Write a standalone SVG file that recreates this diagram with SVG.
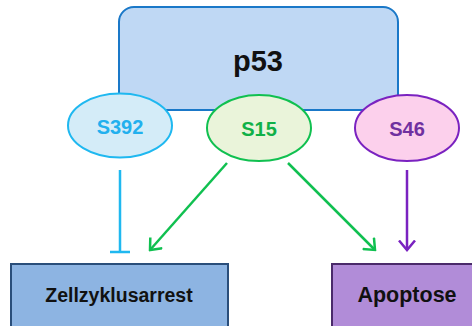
<svg xmlns="http://www.w3.org/2000/svg" width="472" height="326" viewBox="0 0 472 326">
<defs>
<style>
text{font-family:"Liberation Sans",Arial,sans-serif;font-weight:bold;text-anchor:middle;dominant-baseline:central}
.c{fill:none;stroke-width:2.5}
</style>
<marker id="ag" viewBox="0 0 12 18" refX="10.5" refY="9" markerWidth="12" markerHeight="18" markerUnits="userSpaceOnUse" orient="auto"><path d="M1,1 L10.5,9 L1,17" fill="none" stroke="#10c050" stroke-width="2.5"/></marker>
<marker id="ap" viewBox="0 0 12 18" refX="10.5" refY="9" markerWidth="12" markerHeight="18" markerUnits="userSpaceOnUse" orient="auto"><path d="M1,1 L10.5,9 L1,17" fill="none" stroke="#7a22c0" stroke-width="2.5"/></marker>
</defs>
<rect width="472" height="326" fill="#fff"/>
<g id="p53">
<rect x="119" y="7" width="279" height="103" rx="15" fill="#bfd8f4" stroke="#1a78c8" stroke-width="2"/>
<text x="258" y="61" font-size="29" fill="#111">p53</text>
</g>
<g id="S392">
<ellipse cx="120" cy="125.5" rx="52" ry="32" fill="#d4ecf8" stroke="#1fb8f0" stroke-width="2"/>
<text x="120" y="127" font-size="20" fill="#22b0ee">S392</text>
</g>
<g id="S15">
<ellipse cx="259" cy="128" rx="52" ry="33" fill="#eaf4da" stroke="#10c050" stroke-width="2"/>
<text x="259" y="129" font-size="20" fill="#10b048">S15</text>
</g>
<g id="S46">
<ellipse cx="407" cy="128" rx="52" ry="33" fill="#fcd0ec" stroke="#7a22c0" stroke-width="2"/>
<text x="407" y="129" font-size="20" fill="#7030a0">S46</text>
</g>
<g id="Zellzyklusarrest">
<rect x="11" y="264" width="217" height="70" fill="#8db4e2" stroke="#2a4e7a" stroke-width="2"/>
<text x="119" y="295" font-size="19.5" fill="#111">Zellzyklusarrest</text>
</g>
<g id="Apoptose">
<rect x="332" y="264" width="150" height="70" fill="#b18cd8" stroke="#4a2a6a" stroke-width="2"/>
<text x="407" y="295" font-size="21.5" fill="#111">Apoptose</text>
</g>
<g id="connectors">
<path class="c" d="M120,170 V252 M110,252 H130" stroke="#1fb8f0"/>
<path class="c" d="M227,163 L150,250" stroke="#10c050" marker-end="url(#ag)"/>
<path class="c" d="M288,163 L375,250" stroke="#10c050" marker-end="url(#ag)"/>
<path class="c" d="M407,170 V250" stroke="#7a22c0" marker-end="url(#ap)"/>
</g>
</svg>
